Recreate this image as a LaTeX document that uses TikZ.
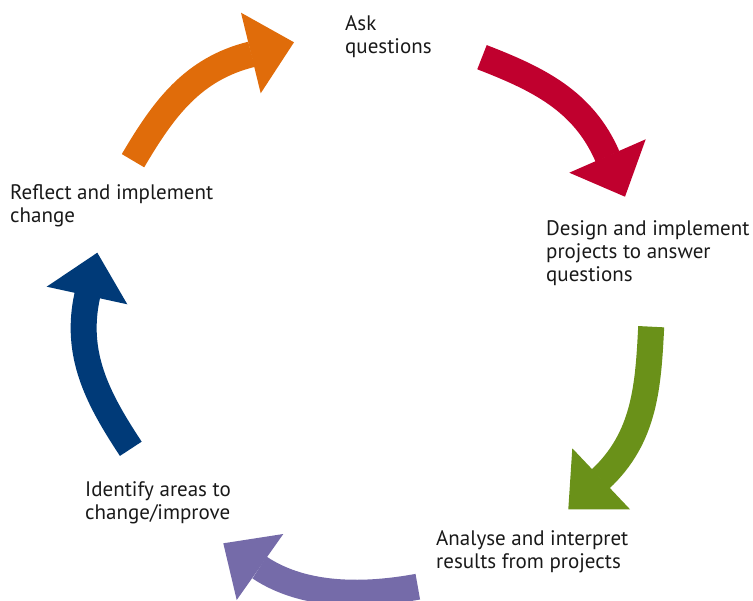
\documentclass[tikz,border=0pt]{standalone}
\usepackage{fontspec}
\setmainfont{PT Sans}
\definecolor{corange}{HTML}{E06C0A}
\definecolor{cred}{HTML}{C0002E}
\definecolor{cgreen}{HTML}{6A9119}
\definecolor{cpurple}{HTML}{756BA9}
\definecolor{cblue}{HTML}{003A78}
\tikzset{
  lbl/.style={anchor=base west, inner sep=0pt, align=left, font=\fontsize{21}{23}\selectfont, text=black!90},
  band/.style={line width=26pt, line cap=butt},
}
\begin{document}
\begin{tikzpicture}[x=1pt,y=-1pt]
\useasboundingbox (0,0) rectangle (753,601);
\clip (0,0) rectangle (753,601);
% labels (anchor = baseline of last line)
\node[lbl] (ask) at (345,53.5) {Ask\\questions};
\node[lbl] (design) at (546,282) {Design and implement\\projects to answer\\questions};
\node[lbl] (analyse) at (436,568.5) {Analyse and interpret\\results from projects};
\node[lbl] (identify) at (85,520) {Identify areas to\\change/improve};
\node[lbl] (reflect) at (10,223) {Reflect and implement\\change};
% orange arrow
\draw[band, corange] (133,160.7) .. controls (163.5,108.9) and (192.5,68.9) .. (251.5,54.3);
\fill[corange] (241,12.7) -- (294,42.3) -- (260.7,93.3) -- cycle;
% red arrow
\draw[band, cred] (482,57.2) .. controls (538,78.9) and (583.3,100.7) .. (607.5,156.5);
\fill[cred] (645.7,139.3) -- (625,196.7) -- (569.3,172.7) -- cycle;
% green arrow
\draw[band, cgreen] (651.2,326.7) .. controls (648.2,386.7) and (644.8,437.5) .. (600.5,479);
\fill[cgreen] (572.3,448.3) -- (568.3,509.3) -- (630,509.3) -- cycle;
% purple arrow
\draw[band, cpurple] (417.8,586.7) .. controls (367,596) and (305,598) .. (259.5,567.5);
\fill[cpurple] (283.3,534) -- (223.3,543.3) -- (236.7,600) -- cycle;
% blue arrow
\draw[band, cblue] (130.8,448.8) .. controls (97.8,398.7) and (74,354.3) .. (87.5,294.5);
\fill[cblue] (46.7,286.7) -- (97.3,252.7) -- (127.3,304.3) -- cycle;
\end{tikzpicture}
\end{document}
